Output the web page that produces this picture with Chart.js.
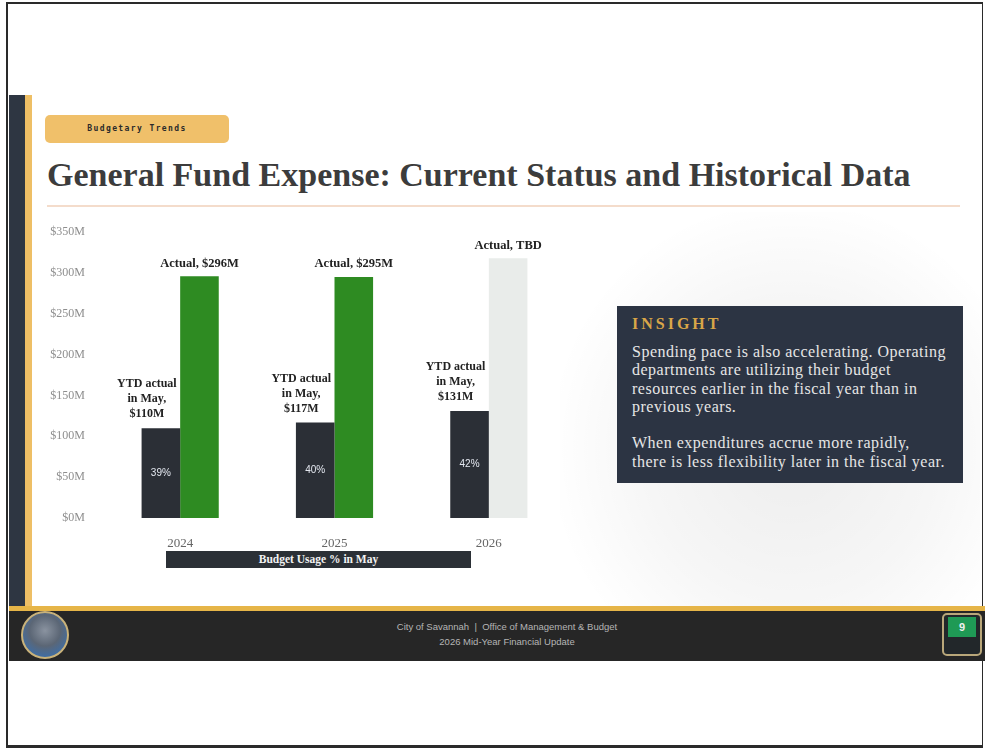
<!DOCTYPE html>
<html>
<head>
<meta charset="utf-8">
<script src="https://cdn.jsdelivr.net/npm/chart.js@4/dist/chart.umd.min.js"></script>
<style>
  html, body { margin: 0; padding: 0; background: #ffffff; }
  body { width: 989px; height: 752px; position: relative; overflow: hidden; font-family: "Liberation Serif", serif; }
  .abs { position: absolute; }
  #border { left: 6px; top: 2px; width: 977px; height: 746px; border: 2px solid #2a2a2a; box-sizing: border-box; border-width: 2px 1px 3px 2px; }
  #leftbar { left: 9px; top: 95px; width: 16px; height: 512px; background: #2e3642; }
  #goldv { left: 25px; top: 95px; width: 7px; height: 512px; background: #eebf65; }
  #goldh { left: 9px; top: 606px; width: 976px; height: 5px; background: #e6b548; }
  #footer { left: 9px; top: 611px; width: 976px; height: 50px; background: #262626; }
  #logo { left: 21px; top: 611px; width: 48px; height: 48px; border-radius: 50%; border: 2px solid #c9b27a; box-sizing: border-box;
          background: radial-gradient(circle at 50% 40%, #8a93a0 0%, #5b6675 45%, #3d6ea8 80%, #2c4f7a 100%); }
  #pagebox { left: 942px; top: 613px; width: 40px; height: 43px; border: 2px solid #b9a77a; border-radius: 5px; box-sizing: border-box; background: #22272a; }
  #pagegreen { left: 948px; top: 617px; width: 28px; height: 20px; background: #1f9a55; color: #f0f0f0; font: bold 11px "Liberation Sans", sans-serif; text-align: center; line-height: 20px; }
  #foot1, #foot2 { left: 300px; width: 414px; text-align: center; color: #b5b5b5; font: 9.5px "Liberation Sans", sans-serif; }
  #foot1 { top: 621px; }
  #foot2 { top: 636px; }
  #pill { left: 45px; top: 115px; width: 184px; height: 28px; border-radius: 5px; background: #f0c06a; }
  #pilltext { left: 45px; top: 115px; width: 184px; height: 28px; text-align: center; font: bold 8px "DejaVu Sans Mono", monospace; line-height: 28px; letter-spacing: 1.4px; color: #2a2a2a; }
  #title { left: 47px; top: 156px; font: bold 34px "Liberation Serif", serif; color: #3c3c3c; white-space: nowrap; letter-spacing: 0px; }
  #titleline { left: 47px; top: 205px; width: 913px; height: 2px; background: #f4dccb; }
  #water { left: 560px; top: 212px; width: 420px; height: 394px;
           background: radial-gradient(ellipse at 55% 60%, rgba(0,0,0,0.07) 0%, rgba(0,0,0,0.035) 45%, rgba(0,0,0,0) 75%); }
  #chartwrap { left: 30px; top: 215px; width: 560px; height: 335px; }
  #insight { left: 617px; top: 306px; width: 346px; height: 177px; background: #2c3443; overflow: hidden; box-sizing: border-box; padding: 7px 4px 0 15px; }
  #insight h3 { margin: 0 0 8px 0; font: bold 16px "Liberation Serif", serif; letter-spacing: 3px; color: #d9a648; line-height: 22px; }
  #insight p { margin: 0; font: 16px "Liberation Serif", serif; letter-spacing: 0.5px; color: #e6e6e6; line-height: 18.3px; white-space: nowrap; }
  #insight p + p { margin-top: 18.3px; }
  #usage { left: 166px; top: 551px; width: 305px; height: 17px; background: #2b3036; color: #f2f2f2; text-align: center;
           font: bold 11.5px "Liberation Serif", serif; line-height: 17px; }
</style>
</head>
<body>
<div id="water" class="abs"></div>
<div id="border" class="abs"></div>
<div id="leftbar" class="abs"></div>
<div id="goldv" class="abs"></div>
<div id="goldh" class="abs"></div>
<div id="footer" class="abs"></div>
<div id="logo" class="abs"></div>
<div id="foot1" class="abs">City of Savannah &nbsp;|&nbsp; Office of Management &amp; Budget</div>
<div id="foot2" class="abs">2026 Mid-Year Financial Update</div>
<div id="pagebox" class="abs"></div>
<div id="pagegreen" class="abs">9</div>
<div id="pill" class="abs"></div>
<div id="pilltext" class="abs">Budgetary Trends</div>
<div id="title" class="abs">General Fund Expense: Current Status and Historical Data</div>
<div id="titleline" class="abs"></div>
<div id="chartwrap" class="abs"><canvas id="c" width="560" height="335"></canvas></div>
<div id="insight" class="abs">
  <h3>INSIGHT</h3>
  <p>Spending pace is also accelerating. Operating<br>departments are utilizing their budget<br>resources earlier in the fiscal year than in<br>previous years.</p>
  <p>When expenditures accrue more rapidly,<br>there is less flexibility later in the fiscal year.</p>
</div>
<div id="usage" class="abs">Budget Usage % in May</div>

<script>
// ---- Data ----
const categories = ['2024', '2025', '2026'];
const ytdMay = [110, 117, 131];            // YTD actual in May, $M
const actualTotal = [296, 295, 318];       // Actual (2026 = TBD, bar height as drawn), $M
const actualLabels = ['$296M', '$295M', 'TBD'];
const ytdLabels = ['$110M', '$117M', '$131M'];
const usagePct = ['39%', '40%', '42%'];
const yTicks = [0, 50, 100, 150, 200, 250, 300, 350];

const darkColor = '#2b2f36';
const actualColors = ['#2e8b22', '#2e8b22', '#e9ecea'];

const labelPlugin = {
  id: 'barLabels',
  afterDatasetsDraw(chart) {
    const ctx = chart.ctx;
    const m0 = chart.getDatasetMeta(0).data;
    const m1 = chart.getDatasetMeta(1).data;
    ctx.save();
    ctx.textAlign = 'center';
    ctx.textBaseline = 'middle';
    ctx.fillStyle = '#222222';
    ctx.font = 'bold 12.5px "Liberation Serif", serif';
    m1.forEach((b, i) => {
      ctx.fillText('Actual, ' + actualLabels[i], b.x, b.y - 13);
    });
    m0.forEach((b, i) => {
      const lx = b.x - 14;
      ctx.fillStyle = '#222222';
      ctx.font = 'bold 12px "Liberation Serif", serif';
      ctx.fillText('YTD actual', lx, b.y - 44);
      ctx.fillText('in May,', lx, b.y - 29);
      ctx.fillText(ytdLabels[i], lx, b.y - 14);
      ctx.fillStyle = '#e4e8f0';
      ctx.font = '10px "Liberation Sans", sans-serif';
      ctx.fillText(usagePct[i], b.x, (b.y + b.base) / 2);
    });
    ctx.restore();
  }
};

new Chart(document.getElementById('c'), {
  type: 'bar',
  data: {
    labels: categories,
    datasets: [
      { label: 'YTD actual in May', data: ytdMay, backgroundColor: darkColor, categoryPercentage: 0.5, barPercentage: 1.0 },
      { label: 'Actual', data: actualTotal, backgroundColor: actualColors, categoryPercentage: 0.5, barPercentage: 1.0 }
    ]
  },
  options: {
    responsive: false,
    animation: false,
    layout: { padding: { top: 17, right: 24, left: 0, bottom: 0 } },
    plugins: { legend: { display: false }, tooltip: { enabled: false } },
    scales: {
      x: {
        grid: { display: false },
        border: { display: false },
        ticks: { color: '#666666', font: { family: '"Liberation Serif", serif', size: 13 }, padding: 10 },
        afterFit(s) { s.height = 32; }
      },
      y: {
        min: 0, max: 350,
        grid: { display: false },
        border: { display: false },
        afterBuildTicks(s) { s.ticks = yTicks.map(v => ({ value: v })); },
        ticks: {
          color: '#8e8e8e',
          font: { family: '"Liberation Serif", serif', size: 12 },
          padding: 10,
          callback: v => '$' + v + 'M'
        },
        afterFit(s) { s.width = 73; }
      }
    }
  },
  plugins: [labelPlugin]
});
</script>
</body>
</html>
